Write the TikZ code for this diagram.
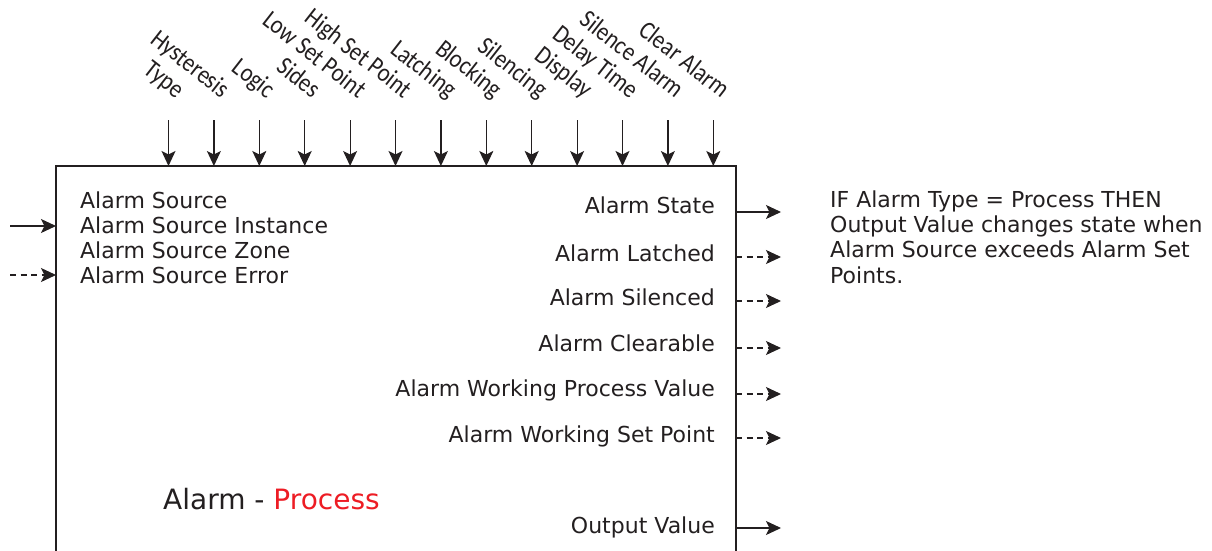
\documentclass[tikz,border=0pt]{standalone}
\usepackage{fontspec}
\setmainfont{DejaVu Sans}
\newfontfamily\paramfont[FakeStretch=0.86]{Carlito}
\usepackage{xcolor}
\usepackage{tikz}
\usetikzlibrary{arrows.meta, positioning}
\definecolor{inkblack}{RGB}{35,31,32}
\definecolor{alarmred}{RGB}{237,28,36}

\begin{document}
\begin{tikzpicture}[
    x=1pt, y=-1pt,
    blockline/.style={draw=inkblack, line width=1.2pt},
    arrow/.style={-{Stealth[length=15pt, width=14pt, inset=3.5pt]}, line width=1.2pt, inkblack},
    dasharrow/.style={arrow, dash pattern=on 6pt off 4.5pt},
    param/.style={anchor=base east, rotate=-38, inner sep=0pt, text=inkblack, font=\paramfont\fontsize{26}{30}\selectfont},
    signal/.style={inner sep=0pt, text=inkblack, font=\fontsize{22}{25.3}\selectfont},
]
\useasboundingbox (0,0) rectangle (1212,551);

% block outline (open at the bottom)
\coordinate (tl) at (56,166);
\coordinate (tr) at (736,166);
\draw[blockline] (56,551) -- (tl) -- (tr) -- (736,551);

% parameters along the top
\node[param] (type) at (176.5,99) {Type};
\node[param] (hyst) at (221.9,99) {Hysteresis};
\node[param] (logic) at (267.3,99) {Logic};
\node[param] (sides) at (312.7,99) {Sides};
\node[param] (lowsp) at (358.1,99) {Low Set Point};
\node[param] (highsp) at (403.5,99) {High Set Point};
\node[param] (latch) at (448.9,99) {Latching};
\node[param] (block) at (494.3,99) {Blocking};
\node[param] (silen) at (539.7,99) {Silencing};
\node[param] (disp) at (585.1,99) {Display};
\node[param] (delay) at (630.5,99) {Delay Time};
\node[param] (silal) at (675.9,99) {Silence Alarm};
\node[param] (clral) at (721.3,99) {Clear Alarm};

\coordinate (p1) at (168.5,120);
\coordinate (p2) at (213.9,120);
\coordinate (p3) at (259.3,120);
\coordinate (p4) at (304.7,120);
\coordinate (p5) at (350.1,120);
\coordinate (p6) at (395.5,120);
\coordinate (p7) at (440.9,120);
\coordinate (p8) at (486.3,120);
\coordinate (p9) at (531.7,120);
\coordinate (p10) at (577.1,120);
\coordinate (p11) at (622.5,120);
\coordinate (p12) at (667.9,120);
\coordinate (p13) at (713.3,120);

\draw[arrow] (p1) -- (p1 |- tl);
\draw[arrow] (p2) -- (p2 |- tl);
\draw[arrow] (p3) -- (p3 |- tl);
\draw[arrow] (p4) -- (p4 |- tl);
\draw[arrow] (p5) -- (p5 |- tl);
\draw[arrow] (p6) -- (p6 |- tl);
\draw[arrow] (p7) -- (p7 |- tl);
\draw[arrow] (p8) -- (p8 |- tl);
\draw[arrow] (p9) -- (p9 |- tl);
\draw[arrow] (p10) -- (p10 |- tl);
\draw[arrow] (p11) -- (p11 |- tl);
\draw[arrow] (p12) -- (p12 |- tl);
\draw[arrow] (p13) -- (p13 |- tl);

% inputs
\node[signal, anchor=base west] (src) at (80,208) {Alarm Source};
\node[signal, anchor=base west] (srcinst) at (80,233) {Alarm Source Instance};
\node[signal, anchor=base west] (srczone) at (80,258) {Alarm Source Zone};
\node[signal, anchor=base west] (srcerr) at (80,283) {Alarm Source Error};

\coordinate (in1) at (10,226);
\coordinate (in2) at (10,275);
\draw[arrow] (in1) -- (in1 -| tl);
\draw[dasharrow] (in2) -- (in2 -| tl);

% outputs
\node[signal, anchor=base east] (state) at (715,213) {Alarm State};
\node[signal, anchor=base east] (latched) at (715,261) {Alarm Latched};
\node[signal, anchor=base east] (silenced) at (715,305) {Alarm Silenced};
\node[signal, anchor=base east] (clearable) at (715,351) {Alarm Clearable};
\node[signal, anchor=base east] (workpv) at (715,396) {Alarm Working Process Value};
\node[signal, anchor=base east] (worksp) at (715,442) {Alarm Working Set Point};
\node[signal, anchor=base east] (outval) at (715,533) {Output Value};

\coordinate (out1) at (781,212);
\coordinate (out2) at (781,257);
\coordinate (out3) at (781,301);
\coordinate (out4) at (781,348);
\coordinate (out5) at (781,394);
\coordinate (out6) at (781,438);
\coordinate (out7) at (781,528);
\draw[arrow] (out1 -| tr) -- (out1);
\draw[dasharrow] (out2 -| tr) -- (out2);
\draw[dasharrow] (out3 -| tr) -- (out3);
\draw[dasharrow] (out4 -| tr) -- (out4);
\draw[dasharrow] (out5 -| tr) -- (out5);
\draw[dasharrow] (out6 -| tr) -- (out6);
\draw[arrow] (out7 -| tr) -- (out7);

% block title
\node[inner sep=0pt, anchor=base west, text=inkblack, font=\fontsize{28}{32}\selectfont] (title) at (163,509) {Alarm - \textcolor{alarmred}{Process}};

% description (anchored on its last line)
\node[signal, anchor=base west, align=left] (note) at (830,283) {IF Alarm Type = Process THEN\\Output Value changes state when\\Alarm Source exceeds Alarm Set\\Points.};
\end{tikzpicture}
\end{document}
